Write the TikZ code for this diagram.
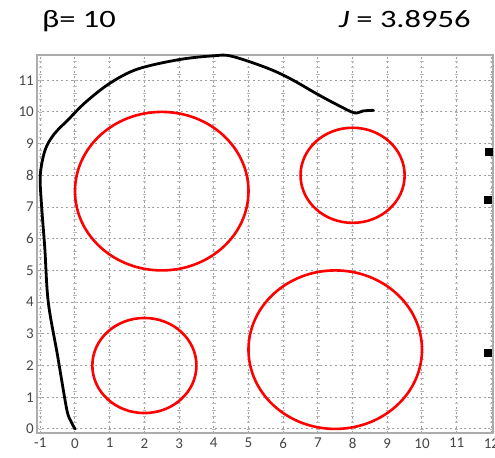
\documentclass[tikz,border=0pt]{standalone}
\usepackage{fontspec}
\setmainfont{Carlito}
\usepackage{graphicx}
\usepackage{tikz}
\usetikzlibrary{positioning}
\tikzstyle{obstacle} = [draw=red, line width=1.3pt]
\tikzstyle{trajectory} = [draw=black, line width=1.4pt, line join=round, line cap=round]
\tikzstyle{gridline} = [draw=gray!75, line width=0.5pt, dash pattern=on 1pt off 1.4pt]
\tikzstyle{minortick} = [draw=gray!55, line width=0.35pt]
\tikzstyle{ticklabel} = [font=\fontsize{7.5}{8}\selectfont, text=gray!55!black, inner sep=1pt]
\tikzstyle{marker} = [rectangle, fill=black, minimum size=4pt, inner sep=0pt]
\tikzstyle{heading} = [font=\fontsize{12.5}{14}\selectfont, inner sep=0pt, anchor=base west]

\begin{document}
\begin{tikzpicture}[x=17.35pt, y=15.85pt]
    \useasboundingbox (-2.161,-0.915) rectangle (12.104,13.53);
    \fill[white] (-2.161,-0.915) rectangle (12.104,13.53);

    % Title line
    \node[heading] (beta) at (-0.96,12.67) {\scalebox{1.3}[1]{β= 10}};
    \node[heading] (cost) at (7.59,12.67) {\scalebox{1.3}[1]{\itshape J\upshape{} = 3.8956}};

    % Grid
    \foreach \i in {-1,...,12}
        \draw[gridline] (\i,-0.13) -- (\i,11.8);
    \foreach \j in {0,...,11}
        \draw[gridline] (-1.09,\j) -- (12.05,\j);
    \foreach \i in {-1,...,12}
        \foreach \k in {0,0.2,...,11.6}
            \draw[minortick] (\i-0.05,\k) -- (\i+0.05,\k);
    \draw[gray!65, line width=0.8pt] (-1.09,-0.13) rectangle (12.05,11.8);

    % Tick labels
    \foreach \i in {-1,...,12}
        \node[ticklabel, anchor=north] (xl\i) at (\i,-0.22) {\i};
    \foreach \j in {0,...,11}
        \node[ticklabel, anchor=east] (yl\j) at (-1.12,\j) {\j};

    % Obstacles
    \draw[obstacle] (2.5,7.5) ellipse [x radius=2.5, y radius=2.5];
    \draw[obstacle] (8,8) ellipse [x radius=1.5, y radius=1.5];
    \draw[obstacle] (2,2) ellipse [x radius=1.5, y radius=1.5];
    \draw[obstacle] (7.5,2.5) ellipse [x radius=2.5, y radius=2.5];

    % Path
    \draw[trajectory] plot[smooth, tension=0.55] coordinates {
        (0,0) (-0.12,0.25) (-0.24,0.63) (-0.5,2.3) (-0.77,4.0) (-0.87,5.7)
        (-0.96,7.0) (-1.0,8.0) (-0.86,8.8) (-0.6,9.3) (-0.2,9.75) (0.3,10.3)
        (1.0,10.9) (1.8,11.35) (3.0,11.65) (4.0,11.77) (4.5,11.76)
        (5.5,11.4) (6.2,11.05) (7.0,10.55) (7.6,10.2) (8.05,9.97)
        (8.3,10.03) (8.6,10.05)};

    % Markers
    \node[marker] (m1) at (11.93,8.73) {};
    \node[marker] (m2) at (11.89,7.22) {};
    \node[marker] (m3) at (11.9,2.38) {};
\end{tikzpicture}
\end{document}
